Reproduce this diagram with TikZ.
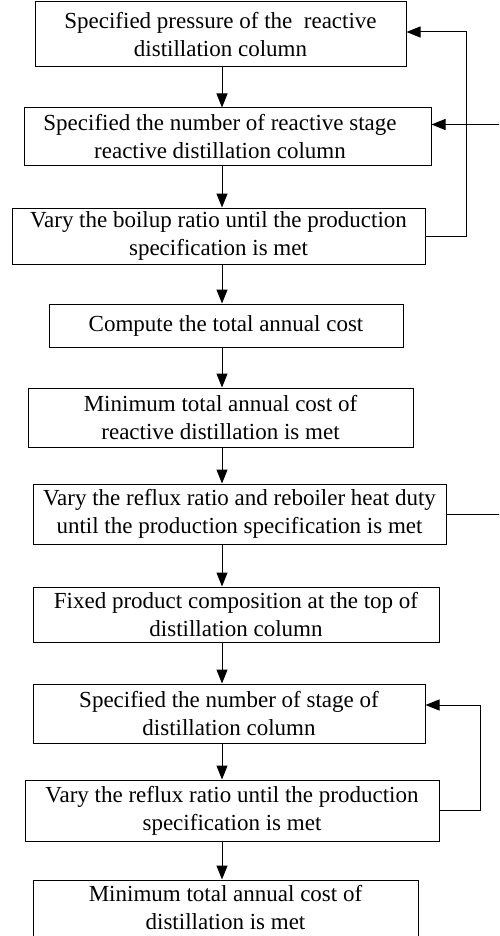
\documentclass[tikz,border=0pt]{standalone}
\usepackage{fontspec}
\setmainfont{Liberation Serif}
\usetikzlibrary{arrows.meta}

\begin{document}
\begin{tikzpicture}[x=1pt, y=-1pt,
    box/.style={draw, line width=1pt, align=center, inner sep=0pt,
      font=\fontsize{23}{28}\selectfont},
    flow/.style={line width=1pt, -{Triangle[length=14pt,width=11pt]}}]
			%%%%% START %%%%%
			\useasboundingbox (0, 0) rectangle (499, 936);
			\clip (0, 0) rectangle (499, 936);
			
			\coordinate (spine) at (222, 0);
			
			% reactive distillation column
			\node[box, minimum width=371, minimum height=65] (pres) at (220.5, 34.5)
				{Specified pressure of the~ reactive\\distillation column};
			\node[box, minimum width=407, minimum height=58] (rstage) at (227.5, 137)
				{Specified the number of reactive stage\hbox to 15pt{}\\reactive distillation column\hbox to 15pt{}};
			\node[box, minimum width=413, minimum height=56] (boilup) at (218.5, 236)
				{Vary the boilup ratio until the production\\specification is met};
			\node[box, minimum width=354, minimum height=43] (tac) at (226, 325.5)
				{Compute the total annual cost};
			\node[box, minimum width=385, minimum height=59] (rmin) at (220.5, 417.5)
				{Minimum total annual cost of\\reactive distillation is met};
			\node[box, minimum width=413, minimum height=60] (reflux) at (239.5, 514)
				{Vary the reflux ratio and reboiler heat duty\\until the production specification is met};
			
			% distillation column
			\node[box, minimum width=406, minimum height=55] (fixed) at (236, 614.5)
				{Fixed product composition at the top of\\distillation column};
			\node[box, minimum width=392, minimum height=59] (dstage) at (229, 713.5)
				{Specified the number of stage of\\distillation column};
			\node[box, minimum width=414, minimum height=61] (rr) at (232, 810.5)
				{Vary the reflux ratio until the production\\specification is met};
			\node[box, minimum width=385, minimum height=56] (dmin) at (225.5, 908)
				{Minimum total annual cost of\\distillation is met};
			
			% main flow down the middle
			\foreach \a/\b in {pres/rstage, rstage/boilup, boilup/tac, tac/rmin,
				rmin/reflux, reflux/fixed, fixed/dstage, dstage/rr, rr/dmin}
				\draw[flow] (\a.south -| spine) -- (\b.north -| spine);
			
			% feedback loops on the right
			\coordinate (loopA) at (466, 0);
			\coordinate (loopB) at (512, 0);
			\coordinate (loopC) at (480, 0);
			\draw[flow] (boilup.east) -- (boilup.east -| loopA) |- ([yshift=2.5pt]pres.east);
			\draw[flow] (reflux.east) -- (reflux.east -| loopB) |- ([yshift=12.5pt]rstage.east);
			\draw[flow] (rr.east) -- (rr.east -| loopC) |- ([yshift=8.5pt]dstage.east);
			
			%%%%% END %%%%%
\end{tikzpicture}
\end{document}
